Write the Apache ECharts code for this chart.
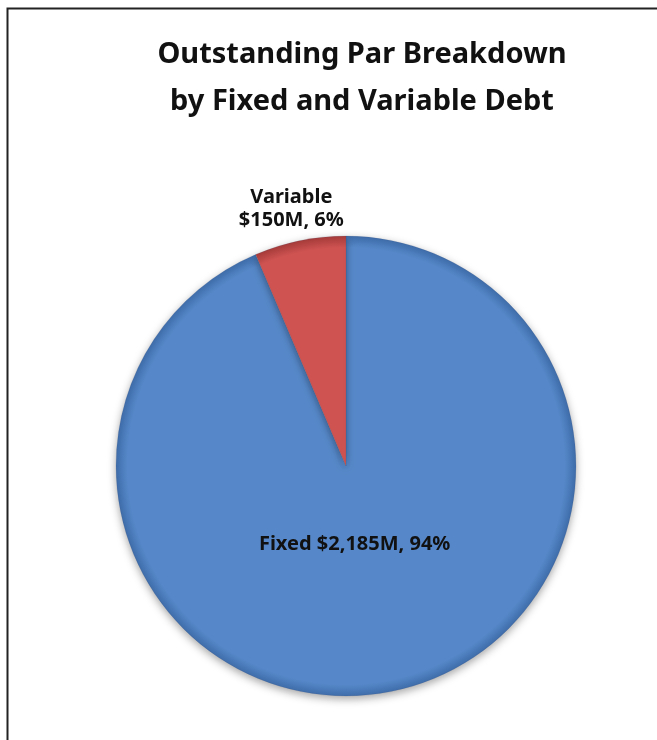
<!DOCTYPE html>
<html>
<head>
<meta charset="utf-8">
<script src="https://cdn.jsdelivr.net/npm/echarts@6/dist/echarts.min.js"></script>
<style>
  html, body { margin: 0; padding: 0; background: #fff; }
  #chart { width: 657px; height: 740px; }
</style>
</head>
<body>
<div id="chart"></div>
<script>
const categories = ['Fixed', 'Variable'];
const amounts = [2185, 150];          // $M
const labelTexts = ['Fixed $2,185M, 94%', 'Variable\n$150M, 6%'];

const cx = 346, cy = 466, R = 230;

// edge shading in page coordinates so each slice gets the same bevel
function bevel(mid, edge) {
  return new echarts.graphic.RadialGradient(cx, cy, R, [
    { offset: 0, color: mid },
    { offset: 0.95, color: mid },
    { offset: 1, color: edge }
  ], true);
}

const fills = [bevel('#5688C9', '#3F6DAA'), bevel('#CE5351', '#A63C3A')];
const offsets = [[-15, -37], [-31, -142]];

var myChart = echarts.init(document.getElementById('chart'));

var option = {
  backgroundColor: '#fff',
  animation: false,
  graphic: [
    {
      type: 'rect',
      shape: { x: 7.5, y: 8.5, width: 700, height: 800 },
      style: { fill: 'none', stroke: '#222', lineWidth: 2 }
    }
  ],
  title: {
    text: 'Outstanding Par Breakdown\nby Fixed and Variable Debt',
    left: 357,
    top: 26,
    textAlign: 'center',
    textStyle: {
      fontFamily: 'Noto Sans',
      fontWeight: 'bold',
      fontSize: 29,
      lineHeight: 47,
      color: '#111'
    }
  },
  series: [
    {
      type: 'pie',
      center: [cx, cy],
      radius: R,
      startAngle: 90,
      clockwise: true,
      silent: true,
      labelLine: { show: false },
      data: categories.map((name, i) => ({
        name: name,
        value: amounts[i],
        itemStyle: {
          color: fills[i],
          borderColor: 'rgba(60,80,120,0.3)',
          borderWidth: 0.5,
          shadowBlur: 8,
          shadowOffsetY: 3,
          shadowColor: 'rgba(0,0,0,0.35)'
        },
        label: {
          show: true,
          position: 'inside',
          formatter: labelTexts[i],
          offset: offsets[i],
          fontFamily: 'Noto Sans',
          fontWeight: 'bold',
          fontSize: 20,
          lineHeight: 23,
          color: '#111',
          align: 'center'
        }
      }))
    }
  ]
};

myChart.setOption(option);
</script>
</body>
</html>
